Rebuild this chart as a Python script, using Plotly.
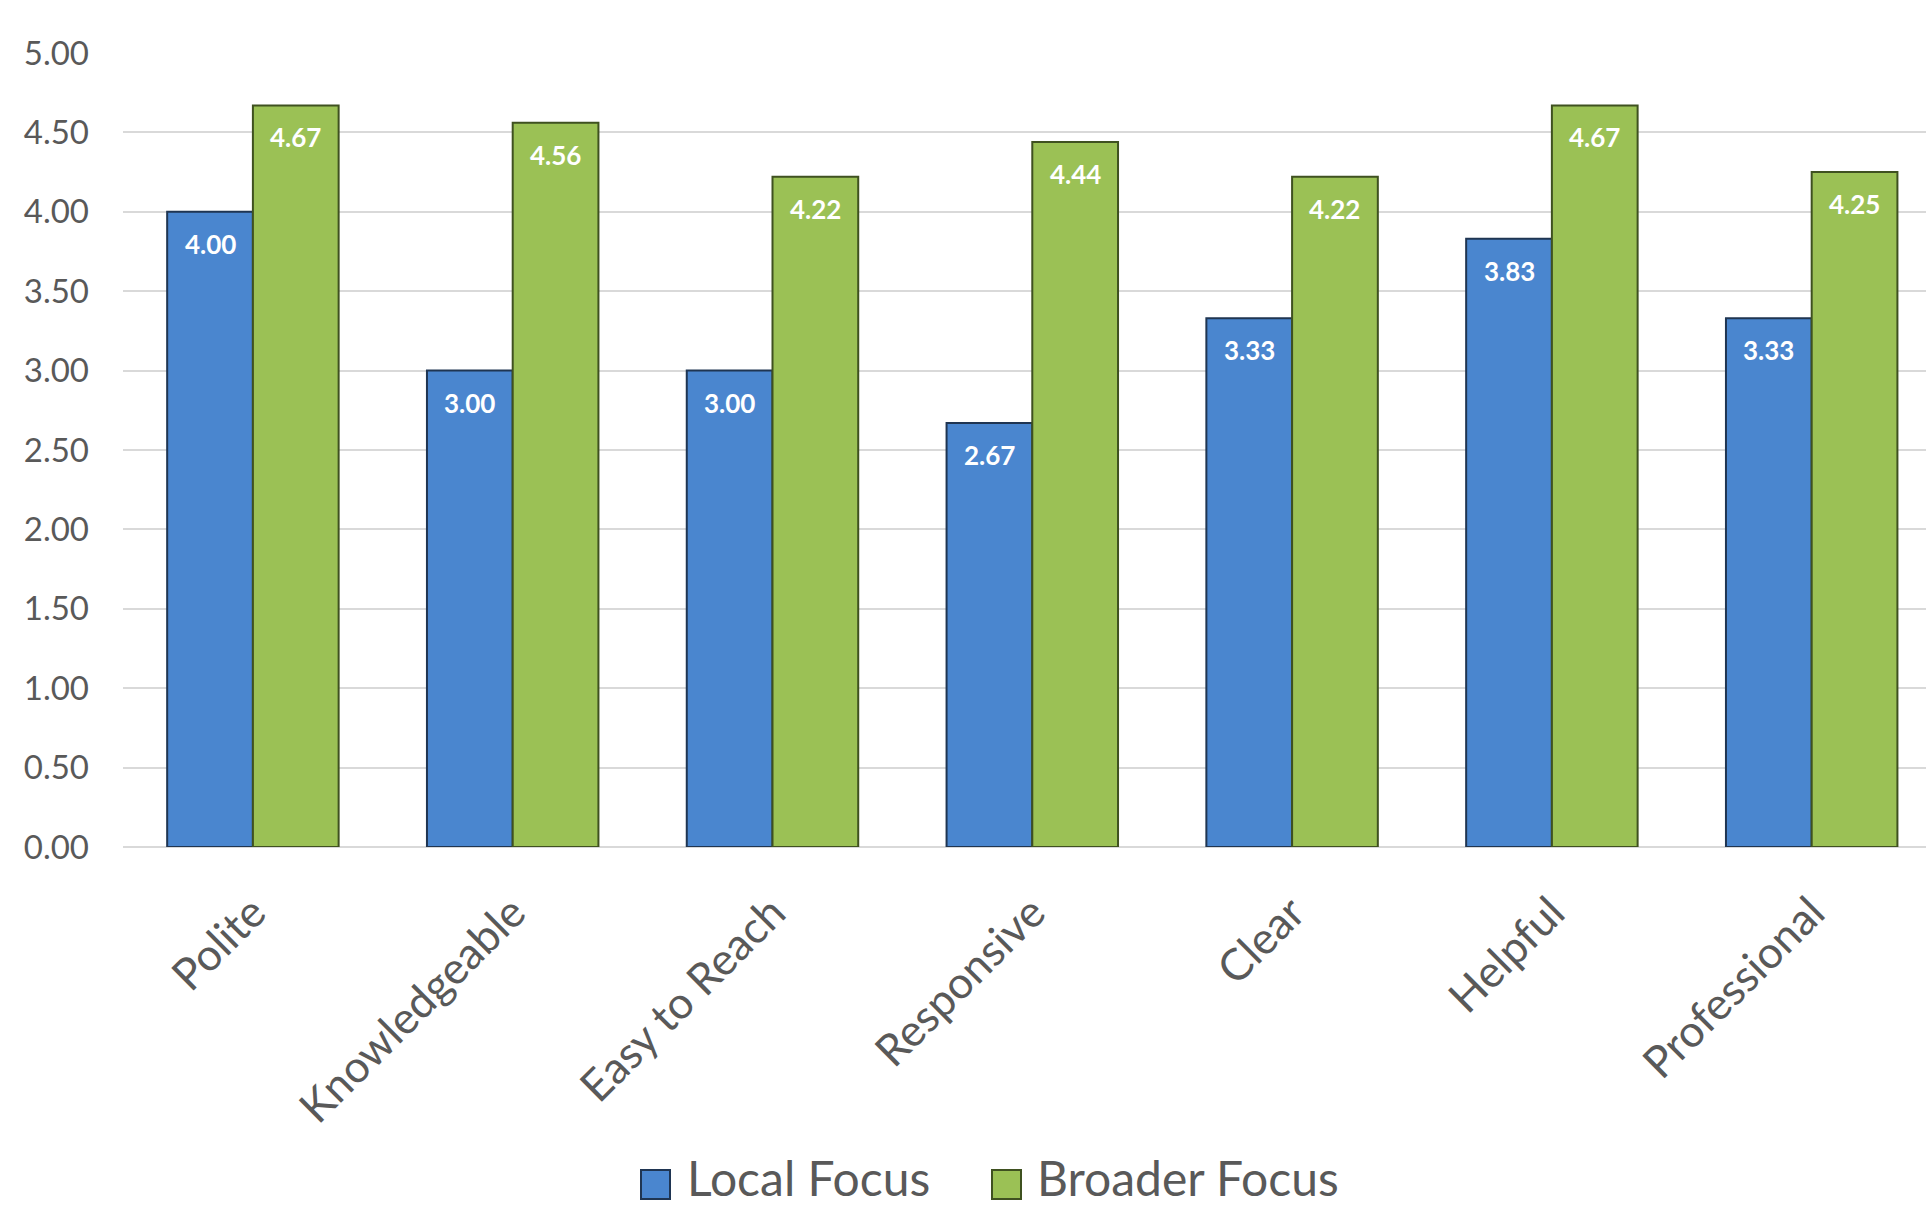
import plotly.graph_objects as go

categories = ["Polite", "Knowledgeable", "Easy to Reach", "Responsive", "Clear", "Helpful", "Professional"]
local_focus = [4.00, 3.00, 3.00, 2.67, 3.33, 3.83, 3.33]
broader_focus = [4.67, 4.56, 4.22, 4.44, 4.22, 4.67, 4.25]
y_ticks = [0, 0.5, 1.0, 1.5, 2.0, 2.5, 3.0, 3.5, 4.0, 4.5, 5.0]
series_names = ["Local Focus", "Broader Focus"]

BLUE = "#4a86cf"
BLUE_EDGE = "#1f3552"
GREEN = "#9bc155"
GREEN_EDGE = "#3f5120"
FONT = "Lato"
TXT = "#595959"

W, H = 1926, 1207
ML, MR, MT, MB = 123, 0, 53, 360
PW, PH = W - ML - MR, H - MT - MB


def px_x(p):
    return (p - ML) / PW


def px_y(p):
    return (H - MB - p) / PH


fig = go.Figure()
fig.add_trace(go.Bar(
    name=series_names[0], x=categories, y=local_focus,
    marker=dict(color=BLUE, line=dict(color=BLUE_EDGE, width=2)),
))
fig.add_trace(go.Bar(
    name=series_names[1], x=categories, y=broader_focus,
    marker=dict(color=GREEN, line=dict(color=GREEN_EDGE, width=2)),
))

bargap = 0.34
half = (1 - bargap) / 4
annotations = []
for i, (a, b) in enumerate(zip(local_focus, broader_focus)):
    for off, v in ((-half, a), (half, b)):
        annotations.append(dict(
            x=i + off, y=v, xref="x", yref="y", text=f"{v:.2f}",
            showarrow=False, yshift=-32,
            font=dict(family=FONT, size=26, color="white", weight="bold"),
        ))

# manual legend (larger swatches than plotly's native legend)
shapes = []
legend_items = [
    (series_names[0], BLUE, BLUE_EDGE, 641, 686),
    (series_names[1], GREEN, GREEN_EDGE, 992, 1036),
]
for name, col, edge, sx, tx in legend_items:
    shapes.append(dict(
        type="rect", xref="paper", yref="paper",
        x0=px_x(sx), x1=px_x(sx + 29), y0=px_y(1170), y1=px_y(1199),
        fillcolor=col, line=dict(color=edge, width=2),
    ))
    annotations.append(dict(
        x=px_x(tx), y=px_y(1207), xref="paper", yref="paper",
        xanchor="left", yanchor="bottom", text=name, showarrow=False,
        borderpad=0,
        font=dict(family=FONT, size=48, color=TXT),
    ))

fig.update_layout(
    width=W, height=H,
    margin=dict(l=ML, r=MR, t=MT, b=MB),
    plot_bgcolor="white", paper_bgcolor="white",
    barmode="group", bargap=bargap, bargroupgap=0,
    font=dict(family=FONT, color=TXT),
    annotations=annotations, shapes=shapes,
    showlegend=False,
    xaxis=dict(
        range=[-0.5, 6.44], tickangle=-45, tickfont=dict(size=44, color=TXT),
        showgrid=False, ticks="", showline=False, ticklabelstandoff=30,
        automargin=False,
    ),
    yaxis=dict(
        range=[0, 5], tickvals=y_ticks, tickformat=".2f",
        tickfont=dict(size=33, color=TXT), showgrid=True, gridcolor="#d9d9d9",
        gridwidth=2, zeroline=True, zerolinecolor="#d9d9d9", zerolinewidth=2,
        ticklabelstandoff=33, showline=False, automargin=False,
    ),
)

fig.write_html("out.html")
